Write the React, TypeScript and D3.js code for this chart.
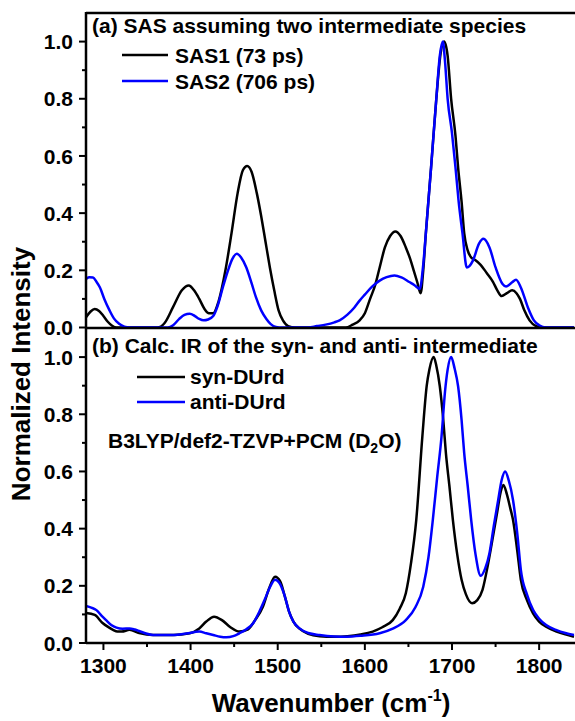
import React from "react";
import * as d3 from "d3";

type P = [number, number];

// Panel (a): SAS spectra
const sas1: P[] = [[1280,0.036],[1285,0.055],[1290,0.065],[1295,0.058],[1300,0.04],[1305,0.02],[1310,0.006],[1315,0],[1362,0],[1370,0.015],[1380,0.072],[1390,0.13],[1398,0.147],[1404,0.13],[1410,0.1],[1416,0.065],[1421,0.05],[1426,0.05],[1432,0.09],[1440,0.2],[1447,0.33],[1454,0.47],[1460,0.55],[1465,0.565],[1470,0.545],[1476,0.47],[1481,0.39],[1486,0.3],[1491,0.21],[1496,0.13],[1501,0.06],[1506,0.025],[1512,0.005],[1520,0],[1578,0],[1586,0.01],[1594,0.025],[1600,0.05],[1606,0.1],[1612,0.15],[1617,0.21],[1623,0.28],[1629,0.32],[1635,0.336],[1641,0.32],[1647,0.28],[1652,0.24],[1656,0.2],[1660,0.16],[1664,0.12],[1667,0.2],[1670,0.33],[1676,0.56],[1682,0.8],[1687,0.96],[1691,1.0],[1695,0.95],[1699,0.8],[1704,0.67],[1707,0.56],[1711,0.44],[1714,0.33],[1718,0.27],[1722,0.245],[1727,0.235],[1732,0.222],[1740,0.19],[1747,0.16],[1752,0.13],[1757,0.11],[1763,0.12],[1769,0.13],[1774,0.12],[1778,0.1],[1783,0.06],[1789,0.025],[1796,0.006],[1805,0],[1840,0]];
const sas2: P[] = [[1280,0.17],[1284,0.176],[1288,0.175],[1292,0.16],[1296,0.14],[1301,0.1],[1307,0.06],[1312,0.032],[1318,0.013],[1324,0.003],[1330,0],[1374,0],[1380,0.008],[1387,0.03],[1393,0.044],[1399,0.048],[1405,0.04],[1410,0.03],[1415,0.025],[1420,0.028],[1426,0.04],[1431,0.075],[1437,0.14],[1443,0.2],[1448,0.24],[1453,0.258],[1458,0.245],[1464,0.21],[1470,0.155],[1475,0.106],[1481,0.06],[1487,0.03],[1492,0.012],[1498,0.002],[1505,0],[1535,0],[1545,0.005],[1555,0.01],[1565,0.018],[1571,0.025],[1580,0.045],[1588,0.07],[1594,0.094],[1600,0.115],[1608,0.142],[1617,0.164],[1625,0.176],[1634,0.182],[1642,0.175],[1651,0.159],[1657,0.148],[1663,0.135],[1667,0.22],[1670,0.33],[1676,0.56],[1682,0.8],[1686,0.95],[1689.5,1.0],[1692,0.93],[1695,0.8],[1700,0.68],[1704,0.56],[1707.5,0.445],[1712,0.33],[1717,0.21],[1720,0.215],[1724,0.234],[1731,0.293],[1736,0.31],[1743,0.28],[1750,0.21],[1758,0.152],[1762,0.143],[1769,0.158],[1773.5,0.167],[1779,0.14],[1787,0.071],[1794,0.025],[1800,0.008],[1808,0],[1840,0]];

// Panel (b): calculated IR spectra
const synDUrd: P[] = [[1280,0.105],[1290,0.098],[1299,0.07],[1306,0.055],[1311,0.046],[1316,0.04],[1321,0.04],[1330,0.046],[1341,0.035],[1357,0.028],[1380,0.028],[1399,0.034],[1410,0.051],[1418,0.075],[1427,0.092],[1436,0.08],[1445,0.057],[1456,0.04],[1466,0.048],[1474,0.08],[1483,0.127],[1490,0.19],[1497,0.232],[1503,0.215],[1508,0.165],[1513,0.11],[1518,0.075],[1525,0.05],[1535,0.032],[1548,0.024],[1565,0.022],[1580,0.024],[1595,0.03],[1609,0.04],[1620,0.055],[1632,0.08],[1640,0.12],[1647,0.174],[1653,0.28],[1659,0.431],[1666,0.723],[1671,0.9],[1674,0.956],[1679,1.0],[1682,0.97],[1686,0.898],[1690,0.78],[1693,0.664],[1697,0.55],[1701,0.431],[1706,0.31],[1711,0.221],[1716,0.17],[1723,0.139],[1729,0.15],[1735,0.186],[1741,0.27],[1747,0.372],[1752,0.46],[1756,0.53],[1759,0.553],[1763,0.52],[1767,0.47],[1770,0.431],[1775,0.32],[1779,0.221],[1786,0.15],[1793,0.104],[1800,0.075],[1808,0.057],[1820,0.04],[1830,0.03],[1840,0.022]];
const antiDUrd: P[] = [[1280,0.13],[1286,0.124],[1292,0.115],[1298,0.095],[1303,0.08],[1309,0.063],[1315,0.054],[1322,0.05],[1330,0.051],[1336,0.047],[1341,0.042],[1348,0.034],[1357,0.028],[1380,0.028],[1395,0.033],[1410,0.04],[1418,0.034],[1426,0.028],[1434,0.022],[1441,0.02],[1449,0.024],[1456,0.034],[1464,0.048],[1472,0.07],[1479,0.11],[1485,0.151],[1491,0.195],[1497,0.221],[1502,0.21],[1508,0.165],[1513,0.11],[1518,0.075],[1525,0.051],[1535,0.035],[1548,0.028],[1565,0.023],[1579,0.022],[1595,0.025],[1617,0.034],[1632,0.05],[1647,0.08],[1658,0.125],[1667,0.197],[1673,0.3],[1678,0.431],[1683,0.58],[1688,0.723],[1692,0.88],[1695,0.956],[1699,1.0],[1703,0.96],[1707,0.898],[1711,0.78],[1714,0.664],[1718,0.55],[1722,0.431],[1727,0.31],[1733,0.235],[1738,0.26],[1743,0.314],[1748,0.41],[1753,0.5],[1757,0.57],[1761,0.6],[1765,0.57],[1770,0.5],[1775,0.38],[1779,0.256],[1786,0.17],[1793,0.116],[1800,0.085],[1808,0.063],[1820,0.045],[1830,0.035],[1840,0.028]];

const xMajor = [1300, 1400, 1500, 1600, 1700, 1800];
const xMinor = [1350, 1450, 1550, 1650, 1750];
const yMajor = [0, 0.2, 0.4, 0.6, 0.8, 1.0];
const yMinor = [0.1, 0.3, 0.5, 0.7, 0.9];

const FONT = "'Liberation Sans', Arial, sans-serif";
const BLUE = "#0000FF";

export default function App() {
  const L = 86, R = 575;
  const x = d3.scaleLinear().domain([1280, 1840]).range([86, 574]);
  const yTop = d3.scaleLinear().domain([0, 1.1]).range([327.5, 13]);
  const yBot = d3.scaleLinear().domain([0, 1.1]).range([643, 328.5]);

  const mk = (y: d3.ScaleLinear<number, number>) =>
    d3.line<P>().x(d => x(d[0])).y(d => y(d[1])).curve(d3.curveMonotoneX);

  const yAxis = (y: d3.ScaleLinear<number, number>, key: string) => (
    <g key={key}>
      {yMajor.map(v => (
        <g key={"M" + v}>
          <line x1={L - 7} x2={L} y1={y(v)} y2={y(v)} stroke="#000" strokeWidth={2} />
          <text x={L - 13} y={y(v)} dy="0.36em" textAnchor="end" fontSize={21} fontWeight="bold" fontFamily={FONT}>{v.toFixed(1)}</text>
        </g>
      ))}
      {yMinor.map(v => (
        <line key={"m" + v} x1={L - 4} x2={L} y1={y(v)} y2={y(v)} stroke="#000" strokeWidth={2} />
      ))}
    </g>
  );

  return (
    <svg width={575} height={721} style={{ position: "absolute", left: 0, top: 0, background: "#fff" }}>
      <defs>
        <clipPath id="plotclip"><rect x={L} y={13} width={R - L} height={630} /></clipPath>
      </defs>
      <g clipPath="url(#plotclip)" fill="none" strokeWidth={2.5} strokeLinejoin="round">
        <path d={mk(yTop)(sas1) || ""} stroke="#000" />
        <path d={mk(yTop)(sas2) || ""} stroke={BLUE} />
        <path d={mk(yBot)(synDUrd) || ""} stroke="#000" />
        <path d={mk(yBot)(antiDUrd) || ""} stroke={BLUE} />
      </g>

      {/* frame */}
      <g stroke="#000" strokeWidth={2.5} fill="none">
        <line x1={L} x2={R + 2} y1={13} y2={13} />
        <line x1={L} x2={R + 2} y1={328} y2={328} />
        <line x1={L} x2={R + 2} y1={643} y2={643} />
        <line x1={L} x2={L} y1={12} y2={644} />
      </g>

      {yAxis(yTop, "top")}
      {yAxis(yBot, "bot")}

      {xMajor.map(v => (
        <g key={"xM" + v}>
          <line x1={x(v)} x2={x(v)} y1={643} y2={650} stroke="#000" strokeWidth={2} />
          <text x={x(v)} y={673} textAnchor="middle" fontSize={21} fontWeight="bold" fontFamily={FONT}>{v}</text>
        </g>
      ))}
      {xMinor.map(v => (
        <line key={"xm" + v} x1={x(v)} x2={x(v)} y1={643} y2={647} stroke="#000" strokeWidth={2} />
      ))}

      {/* axis titles */}
      <text x={331} y={712} textAnchor="middle" fontSize={26} fontWeight="bold" fontFamily={FONT}>
        Wavenumber (cm<tspan fontSize={16} dy={-11}>-1</tspan><tspan dy={11}>)</tspan>
      </text>
      <text transform="translate(30,374) rotate(-90)" textAnchor="middle" fontSize={26} fontWeight="bold" fontFamily={FONT}>
        Normalized Intensity
      </text>

      {/* panel labels and legends */}
      <g fontFamily={FONT} fontWeight="bold" fontSize={21}>
        <text x={92} y={33}>(a) SAS assuming two intermediate species</text>
        <line x1={122} x2={168} y1={55} y2={55} stroke="#000" strokeWidth={2.5} />
        <text x={175} y={63}>SAS1 (73 ps)</text>
        <line x1={122} x2={168} y1={81} y2={81} stroke={BLUE} strokeWidth={2.5} />
        <text x={175} y={89}>SAS2 (706 ps)</text>

        <text x={92} y={353}>(b) Calc. IR of the syn- and anti- intermediate</text>
        <line x1={137} x2={185} y1={377} y2={377} stroke="#000" strokeWidth={2.5} />
        <text x={190} y={384}>syn-DUrd</text>
        <line x1={137} x2={185} y1={402} y2={402} stroke={BLUE} strokeWidth={2.5} />
        <text x={190} y={409}>anti-DUrd</text>
        <text x={108} y={448}>B3LYP/def2-TZVP+PCM (D<tspan fontSize={14} dy={5}>2</tspan><tspan dy={-5}>O)</tspan></text>
      </g>
    </svg>
  );
}
